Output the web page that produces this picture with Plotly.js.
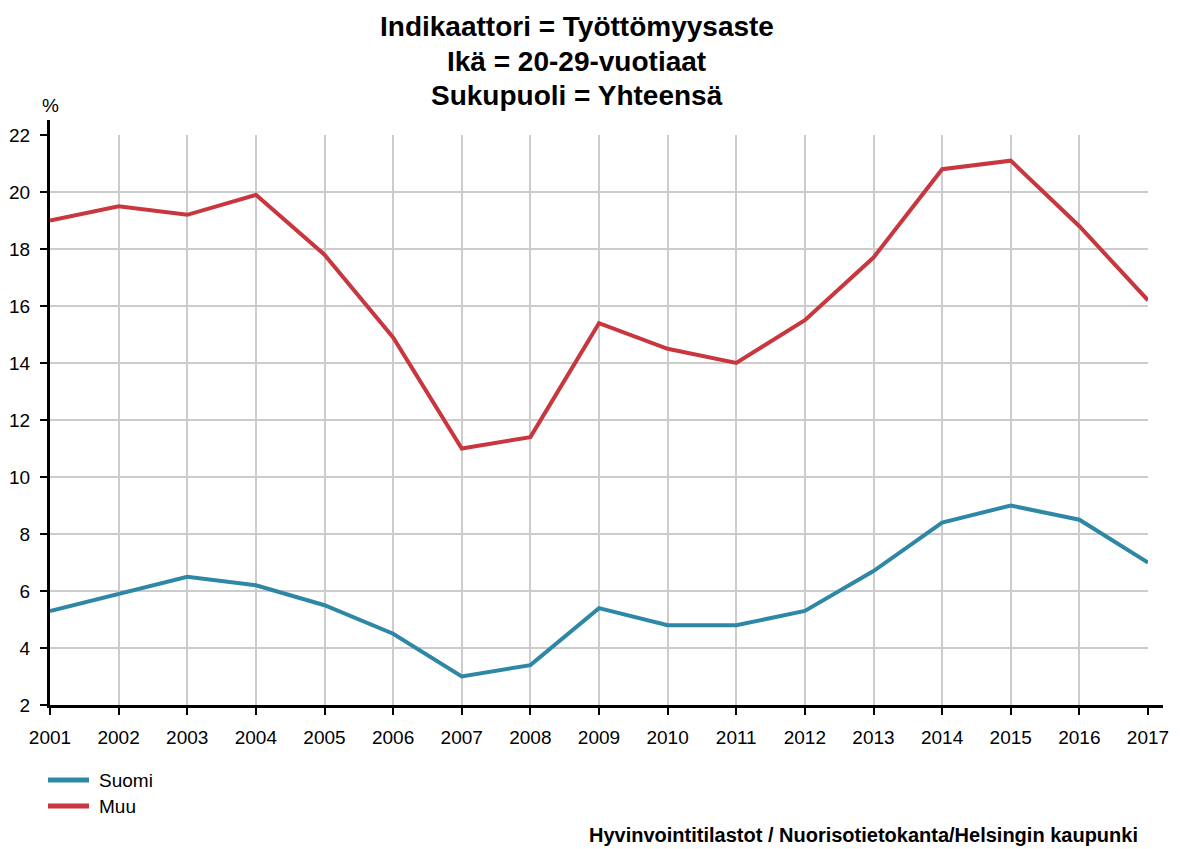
<!DOCTYPE html>
<html>
<head>
<meta charset="utf-8">
<script src="https://cdn.plot.ly/plotly-3.0.1.min.js"></script>
<style>html,body{margin:0;padding:0;background:#fff;}#chart{width:1180px;height:849px;}</style>
</head>
<body>
<div id="chart"></div>
<script>
const years = [2001,2002,2003,2004,2005,2006,2007,2008,2009,2010,2011,2012,2013,2014,2015,2016,2017];
const suomi = [5.3,5.9,6.5,6.2,5.5,4.5,3.0,3.4,5.4,4.8,4.8,5.3,6.7,8.4,9.0,8.5,7.0];
const muu = [19.0,19.5,19.2,19.9,17.8,14.9,11.0,11.4,15.4,14.5,14.0,15.5,17.7,20.8,21.1,18.8,16.2];
const yTicks = [2,4,6,8,10,12,14,16,18,20,22];
const seriesNames = ['Suomi', 'Muu'];
const seriesColors = ['#2e88a5', '#c8373e'];
const titleLines = ['Indikaattori = Työttömyysaste', 'Ikä = 20-29-vuotiaat', 'Sukupuoli = Yhteensä'];
const sourceText = 'Hyvinvointitilastot / Nuorisotietokanta/Helsingin kaupunki';

const font = 'Liberation Sans, Arial, sans-serif';
const traces = [
  {x: years, y: suomi, name: seriesNames[0], mode: 'lines', line: {color: seriesColors[0], width: 4}},
  {x: years, y: muu, name: seriesNames[1], mode: 'lines', line: {color: seriesColors[1], width: 4}}
];
const axisCommon = {
  showgrid: true, gridcolor: '#cccccc', gridwidth: 2,
  showline: true, linecolor: '#000', linewidth: 3, ticks: 'outside', ticklen: 7, tickwidth: 2, tickcolor: '#000',
  zeroline: false, tickfont: {size: 19}, ticklabelstandoff: 6
};

// plot area in px: x 50..1148, y 135..705
const W = 1098, H = 570;
const py = px => 1 + (135 - px) / H;   // page pixel row -> paper y
const pxX = px => (px - 50) / W;       // page pixel column -> paper x

const shapes = [
  {type: 'line', xref: 'paper', yref: 'paper', x0: pxX(48.5), x1: pxX(48.5), y0: 1, y1: py(120), line: {color: '#000', width: 3}},
  {type: 'line', xref: 'paper', yref: 'paper', x0: 1, x1: pxX(1163), y0: py(706.5), y1: py(706.5), line: {color: '#000', width: 3}}
];
const annotations = [];
const titleCenters = [26, 61, 95];
titleLines.forEach((t, i) => {
  annotations.push({text: '<b>' + t + '</b>', xref: 'paper', yref: 'paper', x: pxX(576.5), y: py(titleCenters[i]),
    xanchor: 'center', yanchor: 'middle', showarrow: false, font: {size: 28}});
});
annotations.push({text: '%', xref: 'paper', yref: 'paper', x: 0, y: py(105), xanchor: 'center', yanchor: 'middle', showarrow: false, font: {size: 19}});
annotations.push({text: '<b>' + sourceText + '</b>', xref: 'paper', yref: 'paper',
  x: pxX(1140), y: py(835), xanchor: 'right', yanchor: 'middle', showarrow: false, font: {size: 20}});
// legend drawn as line swatches + labels
const legendRows = [780, 806];
seriesNames.forEach((n, i) => {
  const yy = py(legendRows[i]);
  shapes.push({type: 'line', xref: 'paper', yref: 'paper', x0: pxX(48), x1: pxX(89), y0: yy, y1: yy,
    line: {color: seriesColors[i], width: 5}});
  annotations.push({text: n, xref: 'paper', yref: 'paper', x: pxX(97), y: yy, xanchor: 'left', yanchor: 'middle',
    showarrow: false, font: {size: 19}});
});

const layout = {
  width: 1180, height: 849,
  margin: {l: 50, r: 32, t: 135, b: 144},
  paper_bgcolor: '#fff', plot_bgcolor: '#fff',
  font: {family: font, size: 19, color: '#000'},
  xaxis: Object.assign({range: [2001, 2017], tickvals: years, ticktext: years.map(String)}, axisCommon),
  yaxis: Object.assign({range: [2, 22], tickvals: yTicks}, axisCommon),
  showlegend: false,
  shapes: shapes,
  annotations: annotations
};
Plotly.newPlot('chart', traces, layout, {displayModeBar: false, staticPlot: true});
</script>
</body>
</html>
